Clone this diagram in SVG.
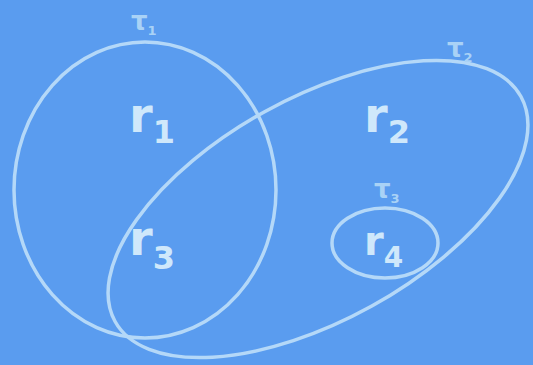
<svg xmlns="http://www.w3.org/2000/svg" width="533" height="365" viewBox="0 0 533 365">
<style>
.set{fill:none;stroke:#b4d8f8;stroke-width:3.5}
.big{font-family:"DejaVu Sans",sans-serif;font-size:48px;fill:#cfe8fb;font-weight:bold}
.sub{font-size:32px}
.sm{font-family:"DejaVu Sans",sans-serif;font-size:26px;fill:#a9d2f6;font-weight:bold}
.smsub{font-size:13px}
</style>
<rect width="533" height="365" fill="#5a9cef"/>
<g id="connectors"></g>
<g id="tau1">
<ellipse class="set" cx="145" cy="190" rx="131" ry="148"/>
<text class="sm" x="131" y="30">τ<tspan class="smsub" dy="5">1</tspan></text>
</g>
<g id="tau2">
<ellipse class="set" cx="318" cy="209" rx="232" ry="111" transform="rotate(-29 318 209)"/>
<text class="sm" x="447" y="57">τ<tspan class="smsub" dy="5">2</tspan></text>
</g>
<g id="tau3">
<ellipse class="set" cx="385" cy="243" rx="53" ry="35"/>
<text class="sm" x="374" y="198">τ<tspan class="smsub" dy="5">3</tspan></text>
</g>
<g id="r1"><text class="big" x="129" y="132">r<tspan class="sub" dy="11">1</tspan></text></g>
<g id="r2"><text class="big" x="364" y="132">r<tspan class="sub" dy="11">2</tspan></text></g>
<g id="r3"><text class="big" x="129" y="255">r<tspan class="sub" dy="14">3</tspan></text></g>
<g id="r4"><text class="big" x="364" y="255" style="font-size:40px">r<tspan style="font-size:28px" dy="12">4</tspan></text></g>
</svg>
